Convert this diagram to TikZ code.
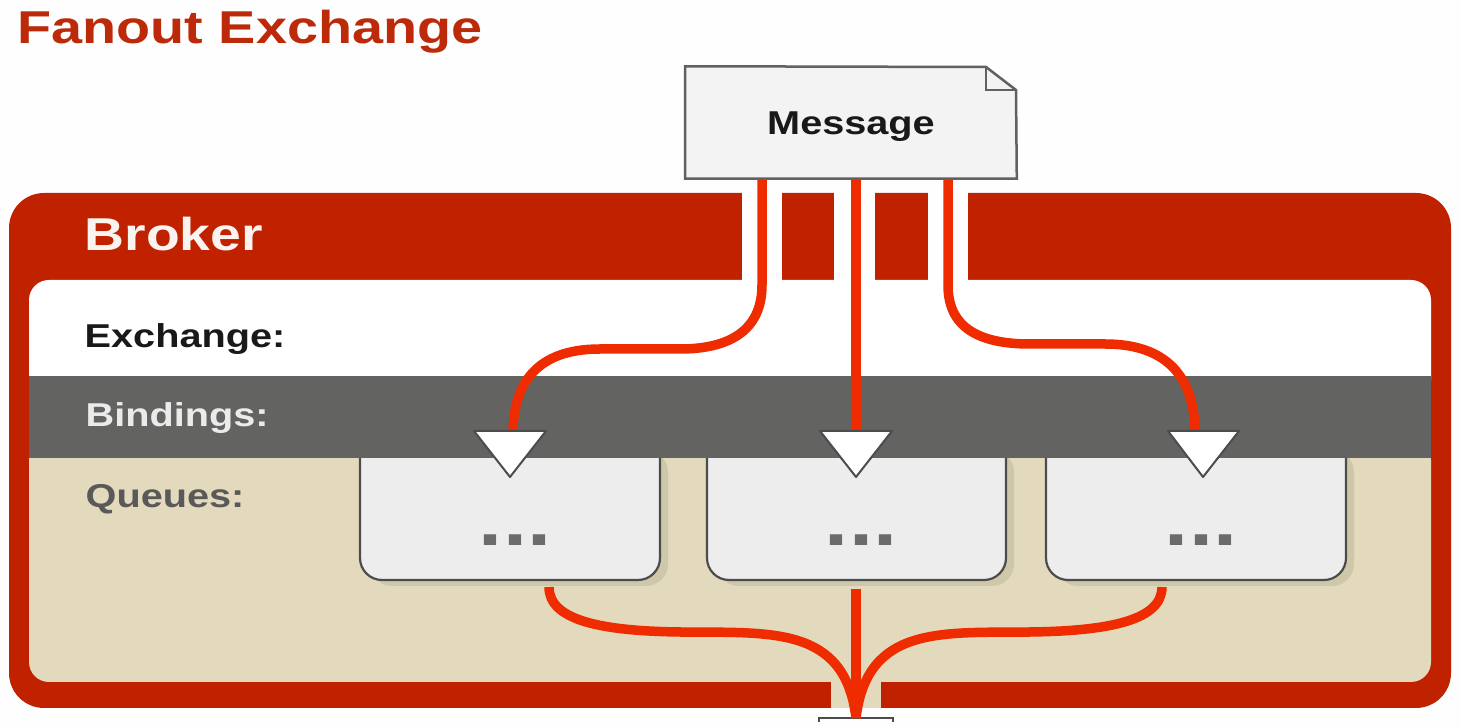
\documentclass[tikz,border=0pt]{standalone}
\usepackage{fontspec}
\usepackage{graphicx}
\setmainfont{Liberation Sans}
\usetikzlibrary{calc}
\definecolor{pagebg}{HTML}{FDFEFD}
\definecolor{brokerred}{HTML}{C02200}
\definecolor{linkred}{HTML}{EE2C00}
\definecolor{bandgray}{HTML}{636462}
\definecolor{tanfill}{HTML}{E3D9BC}
\definecolor{shadowtan}{HTML}{CFC7A9}
\definecolor{queuefill}{HTML}{ECEDEC}
\definecolor{edgegray}{HTML}{4C4C4C}
\definecolor{notefill}{HTML}{F2F3F2}
\definecolor{titlered}{HTML}{BC2A0A}
\newcommand{\wide}[1]{\scalebox{1.2}[1]{#1}}
\tikzset{
  lbl/.style={inner sep=0pt,anchor=base west,font=\fontsize{9.4}{11}\selectfont\bfseries},
  link/.style={draw=linkred,line width=0.095cm},
  qbody/.style={fill=queuefill},
  qedge/.style={draw=edgegray,line width=0.022cm},
  qshadow/.style={fill=shadowtan},
  tri/.style={fill=white,draw=edgegray,line width=0.02cm,line join=round},
  dots/.style={inner sep=0pt,anchor=base,text=black!58,font=\fontsize{20.5}{22}\selectfont\bfseries},
  gap/.style={fill=pagebg},
  note/.style={fill=notefill,draw=black!62,line width=0.025cm,line join=miter}
}
\begin{document}
\begin{tikzpicture}[x=0.01cm,y=-0.01cm]
\useasboundingbox (0,0) rectangle (1460,728);
\clip (0,0) rectangle (1460,728);
\fill[pagebg] (0,0) rectangle (1460,728);

% title
\node[inner sep=0pt,anchor=base west,text=titlered,font=\fontsize{13.1}{15}\selectfont\bfseries] (title) at (17,44) {\scalebox{1.21}[1]{Fanout Exchange}};

% broker panel
\fill[brokerred,rounded corners=0.35cm] (9,193) rectangle (1451,708);
\fill[gap] (742,190) rectangle (782,281);
\fill[gap] (834,190) rectangle (875,281);
\fill[gap] (928,190) rectangle (968,281);
\fill[tanfill] (831,675) rectangle (881,708);
\fill[white,rounded corners=0.2cm] (29,280) rectangle (1431,400);
\fill[tanfill,rounded corners=0.2cm] (29,440) rectangle (1431,682);
\fill[bandgray] (29,376) rectangle (1431,458);

% labels
\node[inner sep=0pt,anchor=base west,text=pagebg!95!brokerred,font=\fontsize{13.1}{15}\selectfont\bfseries] (broker) at (84,251) {\wide{Broker}};
\node[lbl,text=black!90] (exchange) at (84,348) {\wide{Exchange:}};
\node[lbl,text=black!8] (bindings) at (85,427) {\wide{Bindings:}};
\node[lbl,text=black!65] (queues) at (85,508) {\wide{Queues:}};

% queues
\foreach \n/\l/\r/\c in {q1/360/660/515,q2/707/1006/861,q3/1046/1346/1201}{
  \fill[qshadow,rounded corners=0.22cm] (\l+10,450) -- (\l+10,586) -- (\r+8,586) -- (\r+8,450) -- cycle;
  \fill[bandgray] (\l,440) rectangle (\r+9,458);
  \fill[qbody,rounded corners=0.22cm] (\l,430) -- (\l,580) -- (\r,580) -- (\r,430) -- cycle;
  \fill[bandgray] (\l-1,420) rectangle (\r+9,458);
  \draw[qedge,rounded corners=0.22cm] (\l,458) -- (\l,580) -- (\r,580) -- (\r,458);
  \node[dots] (\n) at (\c,546) {\wide{...}};
}
% free ends of the links
\coordinate (m1) at (762,178);
\coordinate (m2) at (856,178);
\coordinate (m3) at (948,178);
\coordinate (t1) at (513,434);
\coordinate (t2) at (856,434);
\coordinate (t3) at (1195,434);
\coordinate (o1) at (549,587);
\coordinate (o2) at (856,589);
\coordinate (o3) at (1162,587);
\coordinate (sink) at (856,718);

% consumer box at the bottom edge
\draw[draw=edgegray,line width=0.025cm,fill=white] (819,722) -- (819,718) -- (893,718) -- (893,722);

% links
\draw[link] (m1) -- (762,285) .. controls (762,330) and (730,349) .. (680,349)
  -- (600,349) .. controls (545,349) and (513,375) .. (t1);
\draw[link] (m2) -- (t2);
\draw[link] (m3) -- (948,285) .. controls (948,325) and (975,344) .. (1030,344)
  -- (1105,344) .. controls (1165,344) and (1195,375) .. (t3);
\draw[link] (o1) .. controls (549,620) and (600,631) .. (680,632)
  .. controls (770,633) and (845,625) .. (sink);
\draw[link] (o2) -- (sink);
\draw[link] (o3) .. controls (1162,620) and (1110,631) .. (1030,632)
  .. controls (942,633) and (867,625) .. (sink);

% triangles
\draw[tri] (474,431) -- (546,431) -- (510,477) -- cycle;
\draw[tri] (820,431) -- (892,431) -- (856,477) -- cycle;
\draw[tri] (1168,431) -- (1239,431) -- (1203,477) -- cycle;

% message note
\node[inner sep=0pt,minimum width=3.3cm,minimum height=1.11cm] (msg) at (851,122.5) {};
\draw[note] (msg.north west) -- (986,67) -- (1016,90) -- (msg.south east) -- (msg.south west) -- cycle;
\draw[black!62,line width=0.025cm] (986,67) -- (986,90) -- (1016,90);
\node[inner sep=0pt,anchor=base,text=black!90,font=\fontsize{9.4}{11}\selectfont\bfseries] (msgtext) at (851,134.5) {\wide{Message}};
\end{tikzpicture}
\end{document}
